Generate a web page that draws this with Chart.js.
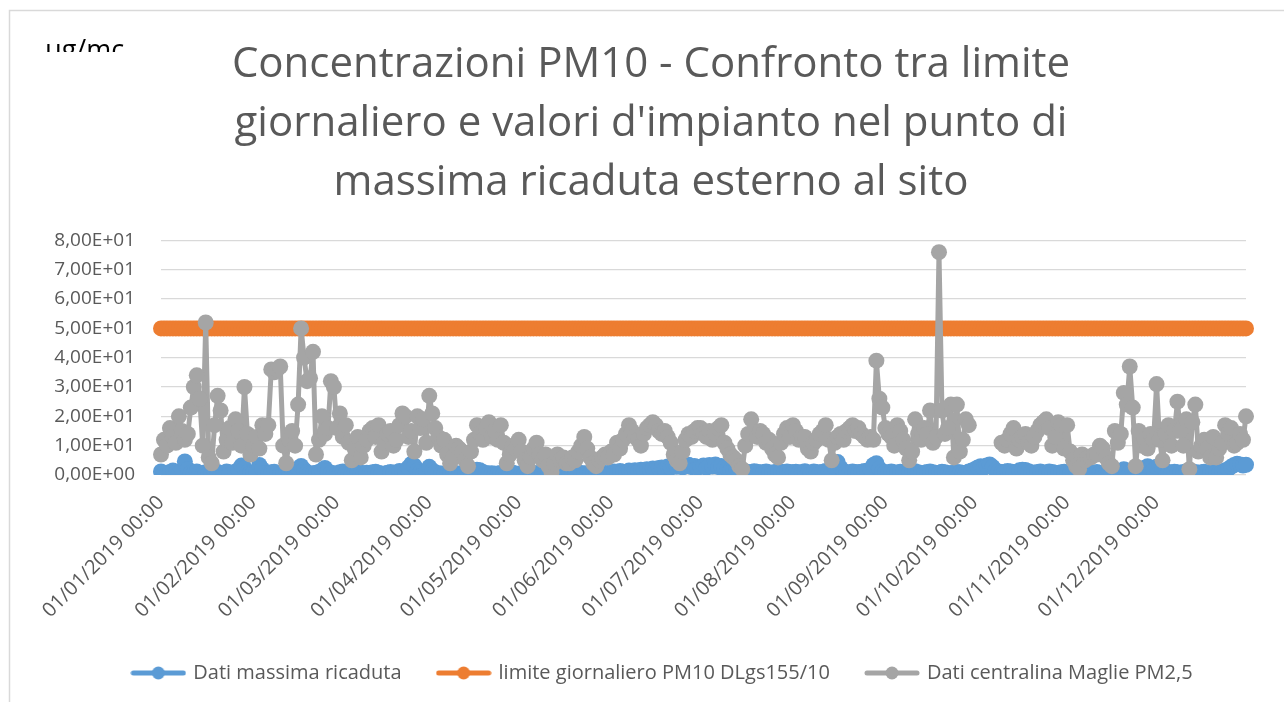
<!DOCTYPE html>
<html><head><meta charset="utf-8">
<script src="https://cdn.jsdelivr.net/npm/chart.js@4.4.1/dist/chart.umd.min.js"></script>
<style>html,body{margin:0;padding:0;background:#fff;}#wrap{width:1284px;height:702px;}</style>
</head><body><div id="wrap"><canvas id="c" width="1284" height="702"></canvas></div>
<script>
// ---- categories (daily, year 2019) ----
const year = 2019;
const monthDays = [31,28,31,30,31,30,31,31,30,31,30,31];
const categories = [];
monthDays.forEach((n, m) => { for (let d = 1; d <= n; d++) categories.push(String(d).padStart(2,'0') + '/' + String(m+1).padStart(2,'0') + '/' + year + ' 00:00'); });

// ---- series names / texts ----
const seriesNames = ['Dati massima ricaduta', 'limite giornaliero PM10 DLgs155/10', 'Dati centralina Maglie PM2,5'];
const yTicks = [0,10,20,30,40,50,60,70,80];
const unitLabel = 'μg/mc';
const titleLines = ['Concentrazioni PM10 - Confronto tra limite', "giornaliero e valori d'impianto nel punto di", 'massima ricaduta esterno al sito'];

// ---- Dati massima ricaduta (blue) ----
const ricJan = [1.2,0.6,0.4,1.0,1.5,0.8,0.5,1.6,4.6,2.0,0.8,0.6,1.2,0.7,0.4,0.9,0.5,0.8,1.4,1.0,0.6,0.5,1.2,0.9,0.7,1.1,1.8,3.2,2.4,0.9,0.7];
const ricFeb = [0.8,1.0,3.4,2.0,0.7,0.5,0.9,1.1,0.6,0.4,0.8,1.2,0.9,0.7,1.0,2.2,3.1,1.8,0.9,0.6,0.5,0.8,1.0,1.6,2.4,1.3,0.7,0.6];
const ricMar = [0.5,0.9,1.2,0.8,0.4,0.6,1.0,1.3,0.7,0.5,0.8,0.6,0.9,1.1,0.7,0.5,0.4,0.8,1.0,0.6,0.9,1.4,1.2,0.8,2.6,3.8,3.2,1.5,0.9,0.7,1.1];
const ricApr = [2.8,1.6,0.9,0.6,0.5,0.4,0.7,0.5,0.3,0.6,0.4,0.5,0.8,0.6,0.5,1.2,1.8,1.6,1.0,0.7,0.5,0.6,0.4,0.5,0.7,0.5,0.4,0.6,0.8,0.5];
const ricMay = [0.4,0.6,0.5,0.3,0.5,0.7,0.6,0.4,0.5,0.8,0.6,0.4,0.3,0.5,0.7,0.9,0.6,0.5,0.4,0.6,0.8,0.7,0.5,0.6,0.4,0.5,0.7,0.9,0.8,0.6,0.7];
const ricJun = [0.9,1.2,1.0,1.4,1.1,0.9,1.5,1.3,1.6,1.2,1.8,1.5,2.0,1.7,2.2,1.9,2.4,2.6,2.1,2.9,2.5,3.2,2.8,3.4,2.6,3.0,3.5,2.7,3.1,2.4];
const ricJul = [2.8,3.2,2.5,3.4,2.9,3.6,2.7,3.1,2.4,2.0,1.6,1.9,2.2,1.8,1.5,1.2,1.0,0.9,1.3,1.1,0.8,1.0,1.2,0.9,0.7,1.0,1.4,1.1,0.8,1.2,1.0];
const ricAug = [0.9,1.1,0.8,1.0,1.3,0.9,0.7,1.2,1.0,0.8,1.1,1.4,1.2,0.9,2.6,4.4,2.4,1.3,1.0,0.8,1.2,1.0,0.9,1.1,1.4,1.2,2.0,3.4,4.0,2.2,1.2];
const ricSep = [1.0,0.8,1.2,0.9,0.7,1.1,0.9,0.6,0.8,1.0,1.3,0.9,0.7,0.8,1.0,1.2,0.9,0.7,0.8,1.1,0.9,0.7,0.6,0.8,1.0,0.9,0.7,0.8,1.2,1.5];
const ricOct = [2.0,2.6,3.0,2.4,3.2,3.6,2.8,1.6,1.2,0.9,1.1,1.4,1.2,0.9,1.0,1.6,1.8,1.7,1.3,0.9,0.7,1.0,1.2,0.8,0.9,1.2,1.0,0.8,0.7,0.9,1.1];
const ricNov = [0.8,0.6,0.9,1.1,0.8,0.6,0.7,0.9,0.6,0.8,1.0,0.7,0.6,0.8,0.9,0.7,0.6,0.8,1.2,2.0,1.5,1.0,1.4,1.4,0.9,0.8,2.4,3.0,2.6,1.8];
const ricDec = [2.8,3.2,2.2,1.4,1.0,0.8,1.1,0.9,0.7,1.0,1.2,0.9,0.8,1.0,0.7,0.9,1.1,0.8,0.7,0.9,1.0,0.8,1.2,1.6,2.0,2.8,3.4,3.8,3.6,3.2,3.5];

// ---- limite giornaliero PM10 (orange, constant) ----
const limiteGiornaliero = 50;

// ---- Dati centralina Maglie PM2,5 (gray) ----
const magJan = [7,12,10,16,13,11,20,15,12,14,23,30,34,26,10,52,6,4,17,27,22,8,12,16,11,19,15,10,30,14,7];
const magFeb = [10,13,9,17,14,17,36,35,36,37,10,4,12,15,10,24,50,40,32,33,42,7,12,20,14,16,32,30];
const magMar = [16,21,13,17,11,5,9,13,6,10,12,15,16,13,17,8,11,14,15,10,12,17,21,20,13,15,8,20,16,19,11];
const magApr = [27,21,16,13,10,12,7,4,6,10,9,8,5,3,8,12,17,14,12,16,18,13,15,12,17,11,4,7,10,9];
const magMay = [12,8,5,3,6,9,11,7,5,7,3,1,4,7,5,6,4,4,6,5,8,10,13,9,6,4,3,5,6,7,6];
const magJun = [8,7,11,9,12,14,17,15,13,12,10,14,16,17,18,17,15,14,15,13,11,7,5,4,8,12,14,13,15,16];
const magJul = [16,14,13,15,12,14,16,17,11,9,7,6,5,3,2,10,14,19,15,13,15,14,11,12,9,7,6,11,14,16,13];
const magAug = [17,15,12,13,13,9,8,11,12,14,15,17,12,5,11,13,14,12,15,16,17,15,16,14,13,12,13,12,39,26,23];
const magSep = [16,14,13,10,17,15,12,9,5,8,19,14,12,16,14,22,11,13,76,22,14,16,24,6,24,8,12,19,17,null];
const magOct = [null,null,null,null,null,null,null,null,null,11,10,12,14,16,9,12,13,14,11,10,13,15,17,18,19,16,10,13,18,17,9];
const magNov = [17,8,5,3,2,7,5,6,6,7,7,10,9,6,4,3,15,11,14,28,24,37,23,3,15,10,12,9,14,12];
const magDec = [31,12,5,14,17,10,15,25,15,10,19,2,18,24,8,10,12,9,6,13,6,9,11,17,14,16,10,11,14,12,20];

const massimaRicaduta = [].concat(ricJan,ricFeb,ricMar,ricApr,ricMay,ricJun,ricJul,ricAug,ricSep,ricOct,ricNov,ricDec);
const centralinaMaglie = [].concat(magJan,magFeb,magMar,magApr,magMay,magJun,magJul,magAug,magSep,magOct,magNov,magDec);
const limiteSeries = categories.map(() => limiteGiornaliero);

const COLORS = ['#5B9BD5', '#ED7D31', '#A5A5A5'];
const TEXT = '#595959';
const FONT = "'Open Sans', sans-serif";

function legendSymbol(color) {
  const cv = document.createElement('canvas');
  cv.width = 56; cv.height = 16;
  const g = cv.getContext('2d');
  g.strokeStyle = color; g.lineWidth = 5; g.lineCap = 'round';
  g.beginPath(); g.moveTo(3, 8); g.lineTo(53, 8); g.stroke();
  g.fillStyle = color; g.beginPath(); g.arc(28, 8, 6.5, 0, Math.PI * 2); g.fill();
  return cv;
}
const legendSymbols = COLORS.map(legendSymbol);

function sciLabel(v) {
  const parts = Number(v).toExponential(2).split('e');
  const sign = parts[1][0] === '-' ? '-' : '+';
  const exp = parts[1].replace(/[+-]/, '').padStart(2, '0');
  return parts[0].replace('.', ',') + 'E' + sign + exp;
}

const decor = {
  id: 'decor',
  beforeDraw(chart) {
    const ctx = chart.ctx;
    ctx.save();
    ctx.fillStyle = '#fff';
    ctx.fillRect(0, 0, chart.width, chart.height);
    ctx.strokeStyle = '#D9D9D9'; ctx.lineWidth = 1.5;
    ctx.beginPath(); ctx.moveTo(9.5, chart.height); ctx.lineTo(9.5, 10.5); ctx.lineTo(chart.width, 10.5); ctx.stroke();
    ctx.restore();
  },
  afterLayout(chart) {
    if (chart.legend) { chart.legend.left += 40; chart.legend.right += 40; }
    if (chart.titleBlock) { chart.titleBlock.left += 28; chart.titleBlock.right += 28; }
  },
  afterDraw(chart) {
    const ctx = chart.ctx;
    ctx.save();
    ctx.beginPath(); ctx.rect(0, 0, 200, 52); ctx.clip();
    ctx.fillStyle = '#000';
    ctx.font = "27px " + FONT;
    ctx.textBaseline = 'alphabetic'; ctx.textAlign = 'left';
    ctx.fillText(unitLabel, 45, 59);
    ctx.restore();
  }
};

new Chart(document.getElementById('c'), {
  type: 'line',
  data: {
    labels: categories,
    datasets: [
      { label: seriesNames[0], data: massimaRicaduta, borderColor: COLORS[0], backgroundColor: COLORS[0],
        borderWidth: 5, pointRadius: 8, pointBorderWidth: 0, pointBackgroundColor: COLORS[0], order: 3 },
      { label: seriesNames[1], data: limiteSeries, borderColor: COLORS[1], backgroundColor: COLORS[1],
        borderWidth: 5, pointRadius: 8, pointBorderWidth: 0, pointBackgroundColor: COLORS[1], order: 2 },
      { label: seriesNames[2], data: centralinaMaglie, borderColor: COLORS[2], backgroundColor: COLORS[2],
        borderWidth: 5, pointRadius: 8, pointBorderWidth: 0, pointBackgroundColor: COLORS[2], order: 1, spanGaps: false }
    ]
  },
  options: {
    responsive: false,
    devicePixelRatio: 1,
    animation: false,
    layout: { padding: { top: 36, right: 38, bottom: 9, left: 0 } },
    elements: { line: { tension: 0, borderCapStyle: 'round', borderJoinStyle: 'round' } },
    scales: {
      x: {
        type: 'category',
        offset: false,
        grid: { display: false, drawTicks: false },
        border: { display: false },
        ticks: {
          autoSkip: false, minRotation: 45, maxRotation: 45, padding: 16,
          color: TEXT, font: { family: FONT, size: 20 },
          callback: function (val, idx) { const l = categories[idx]; return l.startsWith('01/') ? l : null; }
        },
        afterFit(s) { s.height = 151; }
      },
      y: {
        min: 0, max: 80,
        afterBuildTicks(s) { s.ticks = yTicks.map(v => ({ value: v })); },
        grid: { color: '#D9D9D9', lineWidth: 1.3, drawTicks: false },
        border: { display: false },
        ticks: { padding: 26, color: TEXT, font: { family: FONT, size: 19 }, callback: (v) => sciLabel(v) },
        afterFit(s) { s.width = 161; }
      }
    },
    plugins: {
      title: {
        display: true, text: titleLines, color: TEXT,
        font: { family: FONT, size: 42, weight: 'normal', lineHeight: 1.4 },
        padding: { top: 0, bottom: 28 }
      },
      legend: {
        position: 'bottom',
        labels: {
          usePointStyle: true, pointStyleWidth: 50, padding: 37,
          color: TEXT, font: { family: FONT, size: 20 },
          sort: (a, b) => a.datasetIndex - b.datasetIndex,
          generateLabels(chart) {
            const items = Chart.defaults.plugins.legend.labels.generateLabels(chart);
            items.forEach(it => { it.pointStyle = legendSymbols[it.datasetIndex]; it.lineWidth = 0; });
            return items;
          }
        }
      },
      tooltip: { enabled: false }
    }
  },
  plugins: [decor]
});
</script>
</body></html>
